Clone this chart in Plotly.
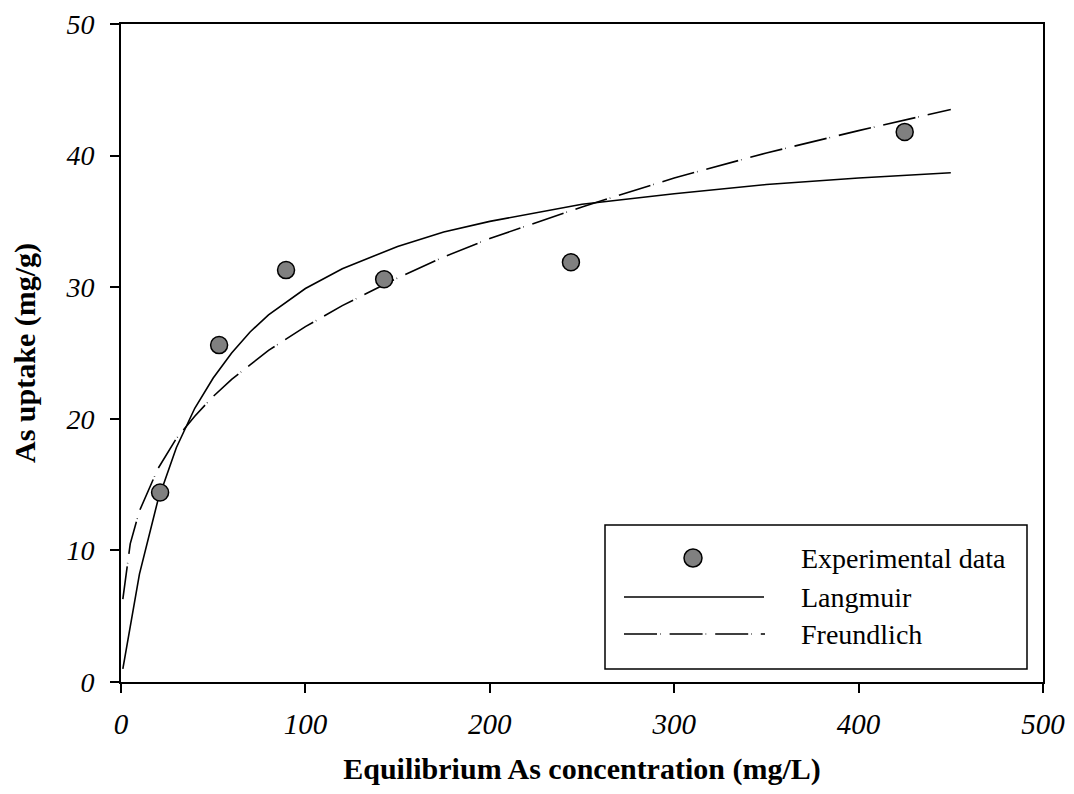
import plotly.graph_objects as go

# ---- data ----
exp_x = [21.2, 53.2, 89.5, 142.7, 244.0, 425.0]
exp_y = [14.4, 25.6, 31.3, 30.6, 31.9, 41.8]

lang_x = [1, 10, 20, 30, 40, 50, 60, 70, 80, 100, 120, 150, 175, 200, 250, 300, 350, 400, 450]
lang_y = [1.0, 8.2, 13.8, 17.8, 20.8, 23.1, 25.0, 26.6, 27.9, 29.9, 31.4, 33.1, 34.2, 35.0, 36.3, 37.1, 37.8, 38.3, 38.7]

freu_x = [1, 5, 10, 20, 30, 40, 50, 60, 70, 80, 100, 120, 150, 175, 200, 250, 300, 350, 400, 450]
freu_y = [6.3, 10.5, 13.0, 16.2, 18.5, 20.2, 21.7, 23.0, 24.1, 25.2, 27.0, 28.6, 30.7, 32.3, 33.7, 36.1, 38.3, 40.2, 41.9, 43.5]

x_ticks = [0, 100, 200, 300, 400, 500]
y_ticks = [0, 10, 20, 30, 40, 50]
legend_labels = ["Experimental data", "Langmuir", "Freundlich"]

FONT = "Liberation Serif, Times New Roman, serif"
FREU_DASH = "33px,3px,0.6px,9px"

# page has an 8px body margin; the figure is sized to fit the 1074x794 window
OFF = 8
W, H = 1058, 778
L, R, T, B = 113, 23, 16, 104
PW, PH = W - L - R, H - T - B


def px(x):
    # window pixel -> paper x
    return (x - OFF - L) / PW


def py(y):
    # window pixel -> paper y
    return (OFF + H - B - y) / PH


fig = go.Figure()
fig.add_trace(go.Scatter(x=lang_x, y=lang_y, mode="lines",
                         line=dict(color="black", width=1.6), name=legend_labels[1], showlegend=False))
fig.add_trace(go.Scatter(x=freu_x, y=freu_y, mode="lines",
                         line=dict(color="black", width=1.6, dash=FREU_DASH), name=legend_labels[2], showlegend=False))
fig.add_trace(go.Scatter(x=exp_x, y=exp_y, mode="markers",
                         marker=dict(size=17, color="#808080", line=dict(color="black", width=1.5)),
                         name=legend_labels[0], showlegend=False, cliponaxis=False))

shapes = []
annotations = []
# legend box
shapes.append(dict(type="rect", xref="paper", yref="paper", x0=px(605), x1=px(1027), y0=py(669), y1=py(525),
                   line=dict(color="black", width=1.5), fillcolor="white", layer="above"))
r = 9
shapes.append(dict(type="circle", xref="paper", yref="paper", x0=px(693 - r), x1=px(693 + r),
                   y0=py(558 + r), y1=py(558 - r), line=dict(color="black", width=1.5), fillcolor="#808080"))
shapes.append(dict(type="line", xref="paper", yref="paper", x0=px(624), x1=px(764), y0=py(597), y1=py(597),
                   line=dict(color="black", width=1.6)))
shapes.append(dict(type="line", xref="paper", yref="paper", x0=px(624), x1=px(765), y0=py(634), y1=py(634),
                   line=dict(color="black", width=1.6, dash=FREU_DASH)))
for lab, yy in zip(legend_labels, [558, 597, 634]):
    annotations.append(dict(text=lab, xref="paper", yref="paper", x=px(799), y=py(yy), xanchor="left",
                            yanchor="middle", showarrow=False, font=dict(family=FONT, size=28, color="black")))

fig.update_layout(
    width=W, height=H,
    margin=dict(l=L, r=R, t=T, b=B, autoexpand=False),
    plot_bgcolor="white", paper_bgcolor="white",
    showlegend=False,
    shapes=shapes, annotations=annotations,
    font=dict(family=FONT, color="black"),
)
fig.update_xaxes(range=[0, 500], tickvals=x_ticks, ticktext=[str(v) for v in x_ticks],
                 showgrid=False, zeroline=False, showline=True, linecolor="black", linewidth=2, mirror=True,
                 ticks="outside", ticklen=9, tickwidth=2, tickcolor="black", ticklabelstandoff=6,
                 ticklabeloverflow="allow",
                 tickfont=dict(family=FONT, size=29, style="italic"),
                 title=dict(text="<b>Equilibrium As concentration (mg/L)</b>", standoff=20,
                            font=dict(family=FONT, size=30)),
                 automargin=False)
fig.update_yaxes(range=[0, 50], tickvals=y_ticks, ticktext=[str(v) for v in y_ticks],
                 showgrid=False, zeroline=False, showline=True, linecolor="black", linewidth=2, mirror=True,
                 ticks="outside", ticklen=9, tickwidth=2, tickcolor="black", ticklabelstandoff=10,
                 ticklabeloverflow="allow",
                 tickfont=dict(family=FONT, size=28, style="italic"),
                 title=dict(text="<b>As uptake (mg/g)</b>", standoff=21, font=dict(family=FONT, size=30)),
                 automargin=False)

fig.write_html("out.html")
